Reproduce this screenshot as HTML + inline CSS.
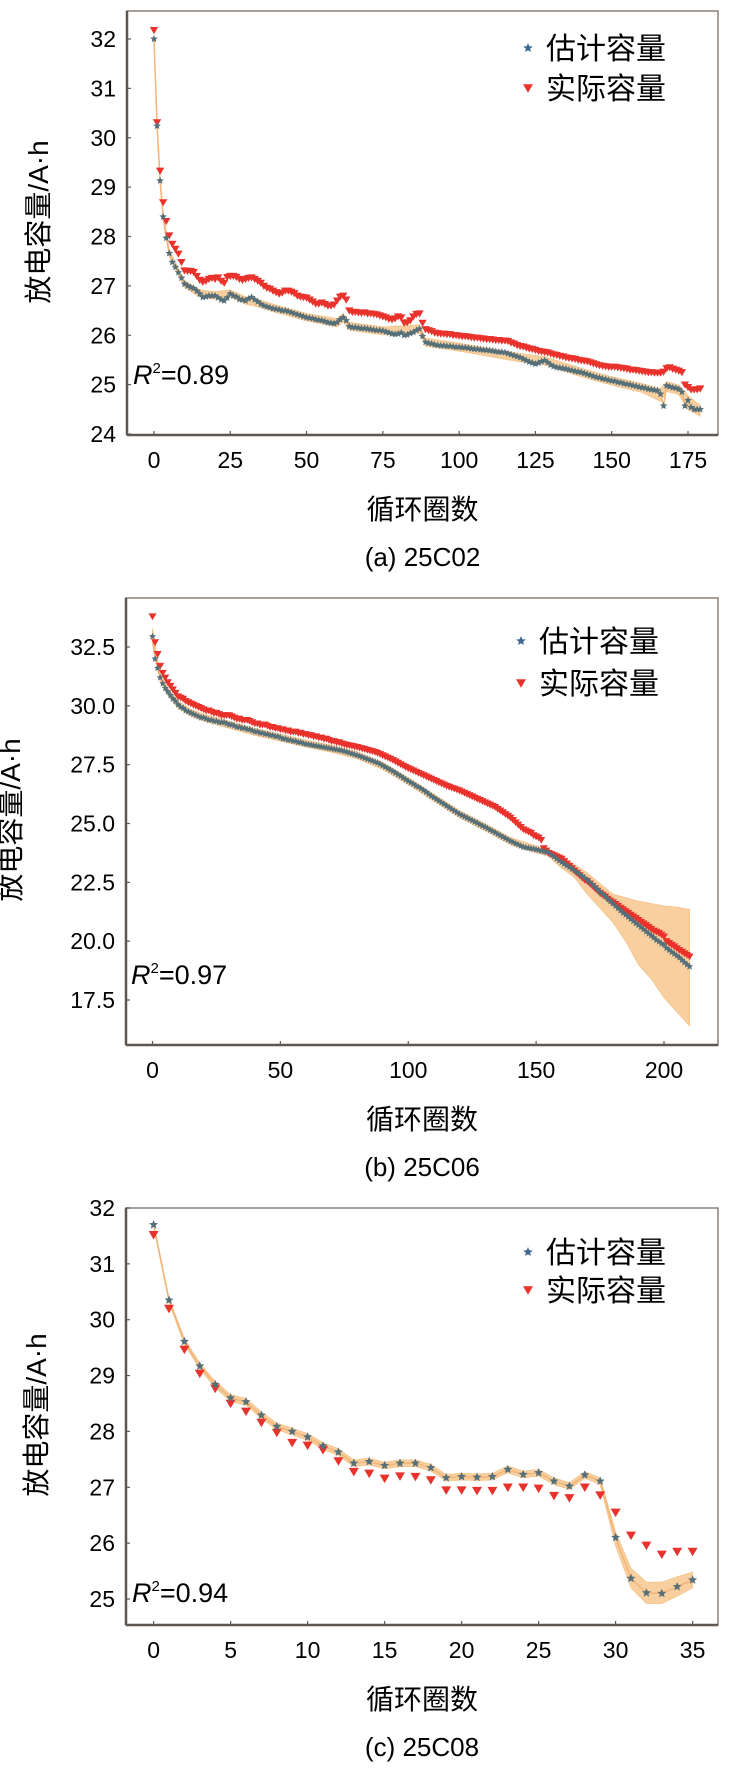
<!DOCTYPE html>
<html><head><meta charset="utf-8"><style>
html,body{margin:0;padding:0;background:#fff;}
svg{display:block;font-family:"Liberation Sans","Noto Sans CJK SC",sans-serif;}
</style></head><body>
<svg id="fig" width="744" height="1773" viewBox="0 0 744 1773" xmlns="http://www.w3.org/2000/svg"></svg>
<script>
// ---------- Chart (a) 25C02 data ----------
const aEst = [32.0,30.24,29.13,28.4,27.97,27.66,27.48,27.38,27.27,27.16,
27.04,27.0,26.97,26.95,26.9,26.84,26.77,26.78,26.8,26.8,
26.8,26.76,26.72,26.7,26.76,26.84,26.8,26.78,26.73,26.72,
26.7,26.74,26.77,26.72,26.68,26.63,26.6,26.58,26.56,26.54,
26.53,26.52,26.5,26.5,26.48,26.46,26.44,26.42,26.4,26.38,
26.36,26.35,26.34,26.32,26.31,26.3,26.28,26.26,26.25,26.24,
26.26,26.32,26.36,26.3,26.18,26.16,26.16,26.15,26.14,26.14,
26.13,26.12,26.11,26.1,26.1,26.09,26.07,26.05,26.03,26.02,
26.03,26.05,26.0,26.01,26.04,26.06,26.1,26.13,25.98,25.86,
25.84,25.83,25.81,25.8,25.79,25.79,25.78,25.78,25.77,25.76,
25.76,25.75,25.75,25.74,25.73,25.72,25.72,25.71,25.7,25.7,
25.69,25.68,25.67,25.66,25.66,25.65,25.63,25.61,25.59,25.57,
25.55,25.52,25.49,25.46,25.44,25.42,25.44,25.47,25.49,25.45,
25.4,25.37,25.35,25.34,25.33,25.32,25.3,25.29,25.27,25.26,
25.25,25.23,25.21,25.19,25.17,25.15,25.14,25.12,25.11,25.09,
25.08,25.07,25.05,25.04,25.02,25.01,25.0,24.98,24.97,24.95,
24.94,24.93,24.91,24.9,24.89,24.88,24.81,24.57,24.98,24.96,
24.94,24.93,24.91,24.85,24.57,24.68,24.54,24.5,24.5,24.5];
const aAct = [32.18,30.31,29.33,28.69,28.31,28.02,27.85,27.75,27.65,27.48,
27.31,27.3,27.3,27.28,27.2,27.12,27.08,27.1,27.14,27.16,
27.14,27.17,27.1,27.06,27.18,27.2,27.2,27.18,27.14,27.12,
27.14,27.16,27.17,27.14,27.1,27.06,27.0,26.96,26.94,26.9,
26.87,26.84,26.86,26.9,26.9,26.88,26.85,26.8,26.78,26.77,
26.76,26.72,26.68,26.64,26.64,26.66,26.63,26.6,26.6,26.62,
26.7,26.78,26.8,26.72,26.5,26.47,26.47,26.46,26.45,26.46,
26.44,26.44,26.43,26.42,26.4,26.38,26.36,26.33,26.32,26.34,
26.38,26.36,26.25,26.26,26.3,26.38,26.43,26.44,26.25,26.12,
26.1,26.08,26.05,26.04,26.03,26.03,26.02,26.02,26.0,26.0,
25.99,25.98,25.98,25.97,25.96,25.95,25.95,25.94,25.93,25.92,
25.92,25.91,25.9,25.9,25.89,25.89,25.88,25.85,25.83,25.8,
25.78,25.77,25.75,25.73,25.72,25.7,25.68,25.67,25.66,25.65,
25.63,25.61,25.6,25.58,25.57,25.55,25.54,25.53,25.52,25.5,
25.49,25.48,25.47,25.45,25.43,25.41,25.39,25.38,25.37,25.36,
25.36,25.36,25.35,25.34,25.33,25.32,25.3,25.3,25.29,25.28,
25.27,25.26,25.25,25.25,25.24,25.24,25.24,25.26,25.33,25.35,
25.32,25.3,25.28,25.25,25.0,24.95,24.9,24.9,24.9,24.92];
const aBandX = [0,1,2,3,5,8,10,15,20,25,30,35,40,50,60,62,64,75,87,89,100,120,128,140,150,160,166,168,172,175,179];
const aBandHi = [32.08,30.32,29.22,28.48,27.74,27.35,27.11,26.92,26.88,26.92,26.78,26.71,26.61,26.44,26.34,26.44,26.26,26.17,26.21,25.94,25.84,25.63,25.57,25.33,25.16,25.02,24.92,25.06,24.99,24.78,24.58];
const aBandLo = [31.94,30.17,29.05,28.33,27.59,27.21,26.97,26.77,26.73,26.77,26.63,26.56,26.46,26.29,26.17,26.28,26.1,26.01,26.05,25.78,25.68,25.46,25.4,25.16,24.99,24.84,24.66,24.86,24.8,24.5,24.36];
const aXTicks = [0,25,50,75,100,125,150,175];
const aYTicks = [24,25,26,27,28,29,30,31,32];
const aYLabels = ["24","25","26","27","28","29","30","31","32"];

// ---------- Chart (b) 25C06 data ----------
const bEst = [32.95,32.0,31.6,31.2,30.95,30.75,30.6,30.45,30.3,30.2,
30.05,29.95,29.9,29.8,29.75,29.7,29.65,29.6,29.55,29.5,
29.5,29.45,29.4,29.4,29.35,29.35,29.3,29.3,29.3,29.25,
29.2,29.2,29.15,29.1,29.1,29.05,29.05,29.0,29.0,28.95,
28.9,28.9,28.85,28.85,28.8,28.8,28.75,28.75,28.7,28.7,
28.65,28.6,28.6,28.55,28.55,28.5,28.5,28.45,28.45,28.4,
28.38,28.36,28.34,28.32,28.3,28.28,28.26,28.24,28.22,28.2,
28.18,28.16,28.14,28.12,28.1,28.07,28.04,28.0,27.97,27.93,
27.9,27.86,27.82,27.78,27.74,27.7,27.66,27.62,27.58,27.52,
27.46,27.4,27.34,27.28,27.22,27.15,27.08,27.01,26.94,26.87,
26.8,26.74,26.68,26.6,26.55,26.48,26.41,26.33,26.25,26.17,
26.1,26.03,25.96,25.89,25.82,25.75,25.68,25.61,25.54,25.47,
25.4,25.35,25.29,25.24,25.18,25.13,25.07,25.02,24.96,24.9,
24.85,24.79,24.73,24.67,24.61,24.55,24.49,24.43,24.37,24.31,
24.25,24.2,24.15,24.1,24.05,24.0,23.98,23.96,23.94,23.92,
23.9,23.87,23.84,23.81,23.78,23.75,23.67,23.59,23.5,23.42,
23.35,23.28,23.21,23.14,23.07,23.0,22.92,22.84,22.76,22.68,
22.6,22.5,22.4,22.3,22.2,22.1,22.0,21.9,21.8,21.7,
21.6,21.5,21.4,21.3,21.2,21.12,21.03,20.94,20.85,20.76,
20.68,20.59,20.5,20.41,20.32,20.24,20.15,20.05,19.98,19.9,
19.85,19.7,19.62,19.54,19.46,19.38,19.3,19.2,19.1,19.0,18.92];
const bAct = [33.8,32.7,32.2,31.7,31.4,31.2,31.0,30.85,30.7,30.55,
30.4,30.35,30.3,30.2,30.15,30.1,30.05,30.0,29.95,29.9,
29.85,29.8,29.8,29.75,29.7,29.7,29.65,29.6,29.6,29.6,
29.6,29.55,29.5,29.45,29.45,29.4,29.4,29.4,29.35,29.3,
29.25,29.25,29.2,29.2,29.2,29.15,29.1,29.1,29.05,29.05,
29.0,29.0,28.95,28.95,28.9,28.9,28.9,28.85,28.85,28.8,
28.8,28.75,28.75,28.7,28.7,28.65,28.65,28.6,28.6,28.55,
28.5,28.5,28.45,28.45,28.4,28.37,28.34,28.32,28.3,28.27,
28.25,28.22,28.19,28.16,28.13,28.1,28.07,28.04,28.0,27.95,
27.9,27.85,27.8,27.75,27.7,27.64,27.58,27.52,27.46,27.4,
27.35,27.3,27.25,27.2,27.15,27.1,27.05,27.0,26.95,26.9,
26.85,26.8,26.75,26.7,26.65,26.6,26.56,26.52,26.48,26.44,
26.4,26.35,26.3,26.25,26.2,26.15,26.1,26.05,26.0,25.95,
25.9,25.85,25.8,25.75,25.7,25.62,25.55,25.48,25.4,25.33,
25.25,25.15,25.05,24.95,24.85,24.75,24.7,24.65,24.6,24.5,
24.45,24.4,24.3,23.95,23.85,23.75,23.7,23.65,23.6,23.55,
23.5,23.4,23.3,23.2,23.1,23.0,22.9,22.8,22.7,22.6,
22.55,22.45,22.35,22.25,22.15,22.05,21.98,21.9,21.8,21.72,
21.65,21.58,21.5,21.42,21.35,21.27,21.2,21.12,21.05,20.98,
20.9,20.82,20.75,20.68,20.6,20.52,20.45,20.4,20.35,20.28,
20.2,20.0,19.92,19.85,19.78,19.7,19.62,19.55,19.48,19.42,19.35];
const bBandX = [0,3,6,10,15,20,30,40,50,60,70,80,90,100,110,120,130,140,150,155,160,165,170,175,180,185,190,195,200,205,210];
const bBandHi = [33.3,31.35,30.75,30.2,29.85,29.65,29.35,29.05,28.8,28.55,28.33,28.05,27.6,26.95,26.25,25.55,25.0,24.4,24.05,23.9,23.55,23.25,22.9,22.45,22.0,21.85,21.7,21.6,21.5,21.45,21.35];
const bBandLo = [32.6,31.05,30.45,29.9,29.55,29.35,29.05,28.75,28.5,28.25,28.03,27.75,27.3,26.65,25.95,25.25,24.7,24.1,23.75,23.6,23.1,22.7,22.0,21.4,20.8,20.0,19.0,18.4,17.6,17.0,16.4];
const bXTicks = [0,50,100,150,200];
const bYTicks = [17.5,20,22.5,25,27.5,30,32.5];
const bYLabels = ["17.5","20.0","22.5","25.0","27.5","30.0","32.5"];

// ---------- Chart (c) 25C08 data ----------
const cEst = [31.7,30.35,29.61,29.17,28.84,28.6,28.53,28.29,28.09,28.0,
27.9,27.74,27.63,27.43,27.46,27.39,27.43,27.43,27.35,27.17,
27.19,27.18,27.19,27.32,27.23,27.26,27.11,27.02,27.22,27.11,
26.1,25.37,25.11,25.1,25.22,25.34];
const cAct = [31.52,30.2,29.47,29.04,28.77,28.5,28.36,28.16,27.98,27.8,
27.75,27.67,27.47,27.28,27.25,27.16,27.2,27.19,27.13,26.95,
26.95,26.94,26.94,27.0,27.0,26.98,26.85,26.81,27.0,26.86,
26.55,26.14,25.96,25.8,25.85,25.85];
const cBandX = [0,1,2,3,4,5,6,7,8,9,10,11,12,13,14,15,16,17,18,19,20,21,22,23,24,25,26,27,28,29,30,31,32,33,34,35];
const cBandHi = [31.74,30.39,29.66,29.22,28.9,28.66,28.59,28.35,28.15,28.06,
27.96,27.8,27.69,27.49,27.52,27.45,27.49,27.49,27.41,27.23,
27.25,27.24,27.25,27.38,27.29,27.32,27.17,27.08,27.28,27.17,
26.2,25.55,25.3,25.3,25.4,25.48];
const cBandLo = [31.66,30.31,29.56,29.12,28.78,28.54,28.47,28.23,28.03,27.94,
27.84,27.68,27.57,27.37,27.4,27.33,27.37,27.37,27.29,27.11,
27.13,27.12,27.13,27.26,27.17,27.2,27.05,26.96,27.16,27.05,
25.95,25.2,24.92,24.92,25.05,25.2];
const cXTicks = [0,5,10,15,20,25,30,35];
const cYTicks = [25,26,27,28,29,30,31,32];
const cYLabels = ["25","26","27","28","29","30","31","32"];

const NS = "http://www.w3.org/2000/svg";
const svg = document.getElementById('fig');
function mk(tag, attrs, parent){
  const e = document.createElementNS(NS, tag);
  for (const k in attrs) e.setAttribute(k, attrs[k]);
  (parent||svg).appendChild(e);
  return e;
}
function starPts(cx, cy, r){
  const p = [];
  for (let i=0;i<10;i++){
    const ang = -Math.PI/2 + i*Math.PI/5;
    const rr = i%2===0 ? r : r*0.45;
    p.push((cx+rr*Math.cos(ang)).toFixed(1)+','+(cy+rr*Math.sin(ang)).toFixed(1));
  }
  return p.join(' ');
}
function triPts(cx, cy, s){
  return (cx-s)+','+(cy-s*0.75)+' '+(cx+s)+','+(cy-s*0.75)+' '+cx+','+(cy+s*0.95);
}

function drawChart(c){
  const g = mk('g', {});
  
  
  const X = v => c.x0px + (v - c.xmin) * (c.x1px - c.x0px) / (c.xmax - c.xmin);
  const Y = v => c.y0px + (v - c.ymin) * (c.y1px - c.y0px) / (c.ymax - c.ymin);
  const fr = mk('rect', {x:c.L, y:c.T, width:c.R-c.L, height:c.B-c.T, fill:'none', stroke:'#8a8078', 'stroke-width':1.5}, g);
  
  
  const ax1 = mk('line', {x1:c.L, y1:c.T, x2:c.L, y2:c.B, stroke:'#5e5650', 'stroke-width':2.5}, g);
  
  
  const ax2 = mk('line', {x1:c.L, y1:c.B, x2:c.R, y2:c.B, stroke:'#5e5650', 'stroke-width':2.5}, g);
  
  
  let bp = [];
  for (let i=0;i<c.bandX.length;i++) bp.push(X(c.bandX[i]).toFixed(1)+','+Y(c.bandHi[i]).toFixed(1));
  for (let i=c.bandX.length-1;i>=0;i--) bp.push(X(c.bandX[i]).toFixed(1)+','+Y(c.bandLo[i]).toFixed(1));
  const band = mk('polygon', {points:bp.join(' '), fill:'#f8cf9e', stroke:'#f5c48a', 'stroke-width':0.8}, g);
  
  
  const lp = c.est.map((v,i)=>X(i).toFixed(1)+','+Y(v).toFixed(1)).join(' ');
  const line = mk('polyline', {points:lp, fill:'none', stroke:'#f2b57a', 'stroke-width':1.5}, g);
  
  
  c.act.forEach((v,i)=>{
    const t = mk('polygon', {points:triPts(X(i), Y(v), c.ms), fill:'#e8322b'}, g);
    
    
  });
  c.est.forEach((v,i)=>{
    const s = mk('polygon', {points:starPts(X(i), Y(v), c.ms*0.95), fill:'#56707a'}, g);
    
    
  });
  c.xTicks.forEach(v=>{
    const tk = mk('line', {x1:X(v), y1:c.B, x2:X(v), y2:c.B-4, stroke:'#5e5650', 'stroke-width':1.2}, g);
    
    
    const tl = mk('text', {x:X(v), y:c.B+33, 'font-size':23, 'text-anchor':'middle', fill:'#000'}, g);
    tl.textContent = String(v);
    
    
  });
  c.yTicks.forEach((v,i)=>{
    const tk = mk('line', {x1:c.L, y1:Y(v), x2:c.L+4, y2:Y(v), stroke:'#5e5650', 'stroke-width':1.2}, g);
    
    
    const tl = mk('text', {x:c.L-11, y:Y(v)+8, 'font-size':23, 'text-anchor':'end', fill:'#000'}, g);
    tl.textContent = c.yLabels[i];
    
    
  });
  const yt = mk('text', {x:0, y:0, 'font-size':28, 'text-anchor':'middle', fill:'#000',
    transform:'translate('+(c.ytX+10)+','+c.ytY+') rotate(-90)'}, g);
  yt.textContent = '放电容量/A·h';
  
  
  const xt = mk('text', {x:(c.L+c.R)/2, y:c.B+84, 'font-size':28, 'text-anchor':'middle', fill:'#000'}, g);
  xt.textContent = '循环圈数';
  
  
  const cap = mk('text', {x:(c.L+c.R)/2, y:c.B+131, 'font-size':26, 'text-anchor':'middle', fill:'#000'}, g);
  cap.textContent = c.caption;
  
  
  const r2 = mk('text', {x:c.r2x, y:c.r2y, 'font-size':27, fill:'#000'}, g);
  r2.innerHTML = '<tspan font-style="italic">R</tspan><tspan font-size="15" dy="-11">2</tspan><tspan dy="11">='+c.r2+'</tspan>';
  
  
  const lg = mk('g', {}, g);
  
  
  const ls = mk('polygon', {points:starPts(c.lgX, c.lgY, 5), fill:'#3e6690'}, lg);
  
  
  const l1 = mk('text', {x:c.lgX+18, y:c.lgY+11, 'font-size':30, fill:'#000'}, lg);
  l1.textContent = '估计容量';
  
  
  const lt = mk('polygon', {points:triPts(c.lgX, c.lgY+c.lgGap, 5), fill:'#e8322b'}, lg);
  
  
  const l2 = mk('text', {x:c.lgX+18, y:c.lgY+c.lgGap+11, 'font-size':30, fill:'#000'}, lg);
  l2.textContent = '实际容量';
  
  
}

drawChart({id:'a', L:127, R:718, T:11, B:435, xmin:0, xmax:175, x0px:154, x1px:688,
  ymin:24, ymax:32, y0px:434, y1px:39, est:aEst, act:aAct, bandX:aBandX, bandHi:aBandHi, bandLo:aBandLo,
  xTicks:aXTicks, yTicks:aYTicks, yLabels:aYLabels, ms:4.2, ytX:38, ytY:222, caption:'(a) 25C02',
  r2:'0.89', r2x:133, r2y:384, lgX:528, lgY:48, lgGap:40});
drawChart({id:'b', L:126, R:718, T:598, B:1045, xmin:0, xmax:200, x0px:152.5, x1px:664,
  ymin:17.5, ymax:32.5, y0px:1000, y1px:647, est:bEst, act:bAct, bandX:bBandX, bandHi:bBandHi, bandLo:bBandLo,
  xTicks:bXTicks, yTicks:bYTicks, yLabels:bYLabels, ms:4.0, ytX:10, ytY:820, caption:'(b) 25C06',
  r2:'0.97', r2x:131, r2y:984, lgX:521, lgY:641, lgGap:42});
drawChart({id:'c', L:126, R:718, T:1208, B:1625, xmin:0, xmax:35, x0px:153.6, x1px:692.6,
  ymin:25, ymax:32, y0px:1599, y1px:1208, est:cEst, act:cAct, bandX:cBandX, bandHi:cBandHi, bandLo:cBandLo,
  xTicks:cXTicks, yTicks:cYTicks, yLabels:cYLabels, ms:5, ytX:36, ytY:1415, caption:'(c) 25C08',
  r2:'0.94', r2x:132, r2y:1602, lgX:528, lgY:1252, lgGap:38});
</script>
</body></html>
